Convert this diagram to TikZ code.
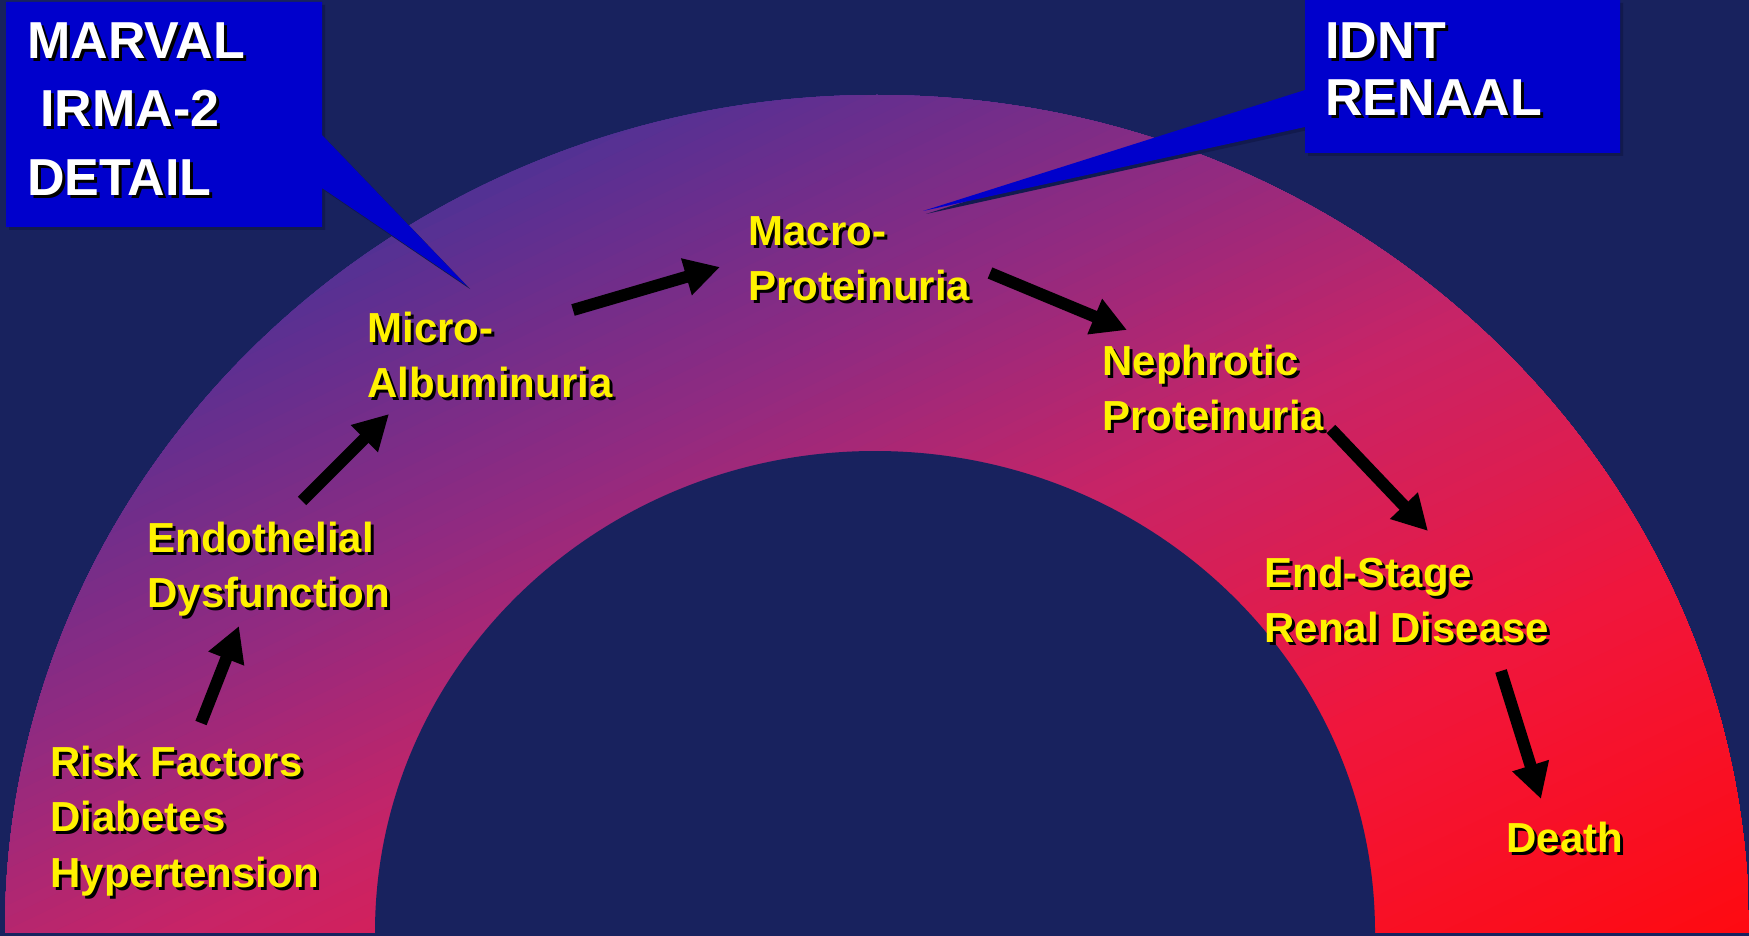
\documentclass[tikz,border=0pt]{standalone}
\usepackage{fontspec}
\setmainfont{Liberation Sans}
\usetikzlibrary{arrows.meta}
\definecolor{bgc}{RGB}{24,34,94}
\definecolor{boxc}{RGB}{0,0,204}
\definecolor{shc}{RGB}{18,26,78}
\definecolor{g0}{HTML}{4D3395}
\definecolor{g1}{HTML}{5A3092}
\definecolor{g2}{HTML}{922A80}
\definecolor{g3}{HTML}{C82466}
\definecolor{g4}{HTML}{F0163C}
\definecolor{g5}{HTML}{FF0A10}
\newcommand\sy{\rule{0pt}{0.8em}}
\newcommand\gseg[5]{%
  \foreach \k in {1,...,#5}{%
    \pgfmathsetmacro\gt{#1+(#2-#1)*(\k-1)/#5}%
    \pgfmathsetmacro\gp{100*(\k-1)/#5}%
    \pgfmathsetmacro\gs{2*\gt}%
    \fill[#4!\gp!#3] ({6+1742*(\gs+1.5)},-1160.5) -- ({6+1742*(\gs-1.5)},1350.5) -- (1748,1350.5) -- (6974,-1160.5) -- cycle;
  }}
\newcommand\stx[5]{%
  \node[#2,text=black] at ({#3+3},{#4+3}) {#5};
  \node[#2] (#1) at (#3,#4) {#5};}
\begin{document}
\begin{tikzpicture}[x=0.5pt,y=-0.5pt,
  ytxt/.style={anchor=north west, inner sep=0pt, align=left, text=yellow,
    font=\fontsize{21pt}{27.75pt}\selectfont\bfseries},
  wtxt/.style={anchor=north west, inner sep=0pt, align=left, text=white,
    font=\fontsize{26pt}{34.25pt}\selectfont\bfseries},
  wtxtb/.style={wtxt, font=\fontsize{26pt}{28.5pt}\selectfont\bfseries},
  arr/.style={black, line width=6pt, line cap=butt, -{Triangle[width=18pt,length=17.5pt]}}]
\useasboundingbox (0,0) rectangle (1749,936);
\fill[bgc] (0,0) rectangle (1749,936);
% arch with diagonal gradient
\begin{scope}
  \clip (0,0) rectangle (1749,932);
  \clip (877,932) ellipse [x radius=436pt, y radius=418.5pt];
  \fill[g0] (0,0) rectangle (1749,936);
  \gseg{0.17}{0.21}{g0}{g1}{4}
  \gseg{0.21}{0.39}{g1}{g2}{24}
  \gseg{0.39}{0.55}{g2}{g3}{22}
  \gseg{0.55}{0.76}{g3}{g4}{28}
  \gseg{0.76}{1.00}{g4}{g5}{30}
\end{scope}
\fill[bgc] (875,932) ellipse [x radius=250pt, y radius=240.5pt];
% callouts
\fill[shc, shift={(3,3)}] (6,2) -- (322,2) -- (322,135) -- (467,286) -- (322,188) -- (322,227) -- (6,227) -- cycle;
\fill[boxc] (6,2) -- (322,2) -- (322,135) -- (467,286) -- (322,188) -- (322,227) -- (6,227) -- cycle;
\fill[shc, shift={(3,3)}] (1305,0) -- (1620,0) -- (1620,153) -- (1305,153) -- (1305,127) -- (923,211) -- (1305,90) -- cycle;
\fill[boxc] (1305,0) -- (1620,0) -- (1620,153) -- (1305,153) -- (1305,127) -- (923,211) -- (1305,90) -- cycle;
% texts
\stx{lbox}{wtxt}{27}{16.4}{\sy MARVAL\\\kern6.5pt IRMA-2\\DETAIL}
\stx{rbox}{wtxtb}{1325}{16.4}{\sy IDNT\\RENAAL}
\stx{risk}{ytxt}{50}{742.4}{\sy Risk Factors\\Diabetes\\Hypertension}
\stx{endo}{ytxt}{147}{518.4}{\sy Endothelial\\Dysfunction}
\stx{micro}{ytxt}{367}{308.4}{\sy Micro-\\Albuminuria}
\stx{macro}{ytxt}{748}{211.4}{\sy Macro-\\Proteinuria}
\stx{neph}{ytxt}{1102}{341.4}{\sy Nephrotic\\Proteinuria}
\stx{esrd}{ytxt}{1264}{553.4}{\sy End-Stage\\Renal Disease}
\stx{death}{ytxt}{1506}{818.4}{\sy Death}
% arrows
\coordinate (a1s) at (201,723); \coordinate (a1e) at (239,626);
\coordinate (a2s) at (302,501); \coordinate (a2e) at (389,414);
\coordinate (a3s) at (573,310); \coordinate (a3e) at (720,267);
\coordinate (a4s) at (990,273); \coordinate (a4e) at (1127,330);
\coordinate (a5s) at (1331,429); \coordinate (a5e) at (1428,531);
\coordinate (a6s) at (1501,671); \coordinate (a6e) at (1541,799);
\draw[arr] (a1s) -- (a1e);
\draw[arr] (a2s) -- (a2e);
\draw[arr] (a3s) -- (a3e);
\draw[arr] (a4s) -- (a4e);
\draw[arr] (a5s) -- (a5e);
\draw[arr] (a6s) -- (a6e);
\end{tikzpicture}
\end{document}
